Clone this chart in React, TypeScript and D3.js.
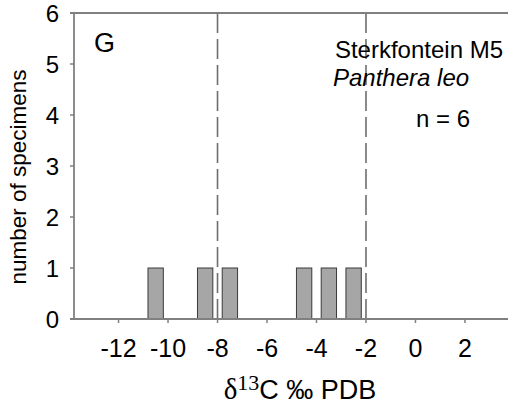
import React from "react";
import * as d3 from "d3";

const binCenters = [-10.5, -8.5, -7.5, -4.5, -3.5, -2.5];
const counts = [1, 1, 1, 1, 1, 1];
const xTicks = [-12, -10, -8, -6, -4, -2, 0, 2];
const yTicks = [0, 1, 2, 3, 4, 5, 6];
const thresholds = [-8, -2];
const panelLabel = "G";
const siteLabel = "Sterkfontein M5";
const taxonLabel = "Panthera leo";
const nLabel = "n = 6";

const W = 508;
const H = 404;
const sans = "'Liberation Sans', Arial, sans-serif";
const serif = "'Liberation Serif', 'Times New Roman', serif";

export default function App() {
  const x = d3.scaleLinear().domain([-13.8, 3.8]).range([74, 509.5]);
  const y = d3.scaleLinear().domain([0, 6]).range([319, 13]);
  const binW = 0.62;
  const axisColor = "#808080";

  return (
    <svg
      width={W}
      height={H}
      style={{ position: "absolute", left: 0, top: 0, background: "#fff" }}
    >
      {thresholds.map((t) => (
        <line
          key={t}
          x1={x(t)}
          x2={x(t)}
          y1={y(6)}
          y2={y(0)}
          stroke="#6e6e6e"
          strokeWidth={1.6}
          strokeDasharray="20,6"
        />
      ))}
      {binCenters.map((c, i) => (
        <rect
          key={i}
          x={x(c - binW / 2)}
          y={y(counts[i])}
          width={x(c + binW / 2) - x(c - binW / 2)}
          height={y(0) - y(counts[i])}
          fill="#a6a6a6"
          stroke="#3a3a3a"
          strokeWidth={1}
        />
      ))}
      <line x1={70} x2={W} y1={y(6)} y2={y(6)} stroke={axisColor} strokeWidth={1.8} />
      <line x1={x(-13.8)} x2={x(-13.8)} y1={y(6)} y2={y(0)} stroke={axisColor} strokeWidth={1.8} />
      {yTicks.map((t) => (
        <g key={t}>
          <line x1={70} x2={74} y1={y(t)} y2={y(t)} stroke={axisColor} strokeWidth={1.5} />
          <text
            x={59}
            y={y(t)}
            dy="0.36em"
            textAnchor="end"
            fontFamily={sans}
            fontSize={24}
            fill="#000"
          >
            {t}
          </text>
        </g>
      ))}
      <line x1={70} x2={W} y1={y(0)} y2={y(0)} stroke={axisColor} strokeWidth={1.8} />
      {xTicks.map((t) => (
        <g key={t}>
          <line x1={x(t)} x2={x(t)} y1={y(0)} y2={y(0) + 4} stroke={axisColor} strokeWidth={1.5} />
          <text
            x={x(t)}
            y={357}
            textAnchor="middle"
            fontFamily={sans}
            fontSize={25}
            fill="#000"
          >
            {t}
          </text>
        </g>
      ))}
      <text
        transform={`translate(26,${177}) rotate(-90)`}
        textAnchor="middle"
        fontFamily={sans}
        fontSize={22.5}
        fill="#000"
      >
        number of specimens
      </text>
      <text x={300} y={399} textAnchor="middle" fontFamily={sans} fontSize={27} fill="#000">
        <tspan fontFamily={serif} fontSize={29}>δ</tspan>
        <tspan fontFamily={serif} fontSize={22} dy={-9}>13</tspan>
        <tspan dy={9}>C ‰ PDB</tspan>
      </text>
      <text x={94} y={52} fontFamily={sans} fontSize={27} fill="#000">
        {panelLabel}
      </text>
      <text x={503} y={58} textAnchor="end" fontFamily={sans} fontSize={24} fill="#000">
        {siteLabel}
      </text>
      <text x={333} y={86} fontFamily={sans} fontSize={24} fontStyle="italic" fill="#000">
        {taxonLabel}
      </text>
      <text x={416} y={127} fontFamily={sans} fontSize={24} fill="#000">
        {nLabel}
      </text>
    </svg>
  );
}
